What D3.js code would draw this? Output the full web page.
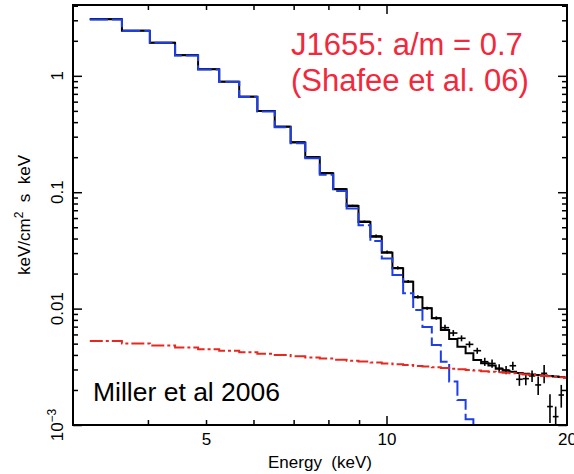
<!DOCTYPE html>
<html>
<head>
<meta charset="utf-8">
<script src="https://cdn.jsdelivr.net/npm/d3@7"></script>
<style>
  html, body { margin: 0; padding: 0; background: #fff; }
  svg { display: block; }
  text { font-family: "Liberation Sans", Arial, Helvetica, sans-serif; }
</style>
</head>
<body>
<svg id="chart" width="574" height="474"></svg>
<script>
// ---------------- data ----------------
const binEdges = [3.20, 3.62, 4.03, 4.44, 4.85, 5.26, 5.68, 6.09, 6.51, 6.92, 7.32, 7.74, 8.15, 8.58, 8.98,
  9.40, 9.82, 10.23, 10.66, 11.08, 11.48, 11.90, 12.32, 12.72, 13.13, 13.55, 13.96, 14.38, 14.79, 15.21,
  15.62, 16.04, 16.45, 16.87, 17.28, 17.70, 18.11, 18.53, 18.94, 19.36, 19.77, 20.19];

// total model (black step)
const totalModel = [3.06, 2.44, 1.925, 1.50, 1.137, 0.890, 0.661, 0.498, 0.365, 0.268, 0.1995, 0.1453, 0.1059,
  0.0761, 0.0554, 0.0415, 0.0302, 0.0222, 0.0170, 0.0125, 0.01006, 0.00825, 0.00655, 0.00548, 0.00471,
  0.00413, 0.00362, 0.00339, 0.00325, 0.00305, 0.00293, 0.00287, 0.00280, 0.00276, 0.00272, 0.00269,
  0.00266, 0.00263, 0.00261, 0.00258, 0.00256];

// disk component (blue dashed step)
const diskModel = [3.05, 2.43, 1.92, 1.495, 1.133, 0.886, 0.657, 0.494, 0.361, 0.264, 0.1957, 0.1416, 0.1023,
  0.0725, 0.0519, 0.0381, 0.0270, 0.0194, 0.01353, 0.00973, 0.00695, 0.00487, 0.00350, 0.00236, 0.00164,
  0.00112, 0.00075];

// power-law component (red dash-dot step)
const powerLaw = [0.00527, 0.00502, 0.00482, 0.00464, 0.00448, 0.00434, 0.00421, 0.00409, 0.00399, 0.00390,
  0.00381, 0.00372, 0.00364, 0.00357, 0.00351, 0.00344, 0.00338, 0.00333, 0.00327, 0.00322, 0.00318,
  0.00313, 0.00309, 0.00305, 0.00301, 0.00297, 0.00294, 0.00290, 0.00287, 0.00284, 0.00281, 0.00278,
  0.00275, 0.00272, 0.00270, 0.00267, 0.00265, 0.00262, 0.00260, 0.00257, 0.00255];

// unfolded data points (black crosses)
const dataFlux = [3.07, 2.45, 1.93, 1.51, 1.14, 0.893, 0.664, 0.500, 0.367, 0.270, 0.201, 0.1465, 0.1068,
  0.0770, 0.0562, 0.0421, 0.0306, 0.0224, 0.0171, 0.0126, 0.0101, 0.0083, 0.00686, 0.00617, 0.00556,
  0.00493, 0.00435, 0.00350, 0.00338, 0.00307, 0.00297, 0.00323, 0.00247, 0.00250, 0.00264, 0.00221,
  0.00278, 0.00144, 0.00118, 0.00181];
const dataErr = [0.02, 0.015, 0.012, 0.01, 0.008, 0.006, 0.005, 0.004, 0.003, 0.0025, 0.002, 0.0015, 0.0012,
  0.001, 0.0009, 0.0012, 0.0009, 0.0007, 0.0005, 0.0004, 0.0003, 0.00028, 0.0004, 0.00037, 0.00033,
  0.0003, 0.00026, 0.00028, 0.00027, 0.00025, 0.00024, 0.00026, 0.0003, 0.0003, 0.0003, 0.0004, 0.0005,
  0.0004, 0.00026, 0.0004];

const xMinorTicks = [4, 5, 6, 7, 8, 9];
const xMajorTicks = [10];
const xTickLabels = [5, 10, 20];
const yMajorTicks = [1, 0.1, 0.01, 0.001];
const yMinorTicks = [2, 3, 4, 0.2, 0.3, 0.4, 0.5, 0.6, 0.7, 0.8, 0.9, 0.02, 0.03, 0.04, 0.05, 0.06, 0.07,
  0.08, 0.09, 0.002, 0.003, 0.004, 0.005, 0.006, 0.007, 0.008, 0.009];
const yTickLabels = [{v: 1, t: "1"}, {v: 0.1, t: "0.1"}, {v: 0.01, t: "0.01"}, {v: 0.001, t: "10", sup: "\u22123"}];

// ---------------- layout ----------------
const L = 73, R = 567, T = 5, B = 425;
const svg = d3.select("#chart");
const x = d3.scaleLog().domain([3, 20]).range([L, R]);
const y = d3.scaleLog().domain([0.001, 4.06]).range([B, T]);

svg.append("defs").append("clipPath").attr("id", "plotclip")
  .append("rect").attr("x", L).attr("y", T).attr("width", R - L).attr("height", B - T);

const plot = svg.append("g").attr("clip-path", "url(#plotclip)");

function stepPoints(vals) {
  const pts = vals.map((v, i) => [binEdges[i], v]);
  pts.push([binEdges[vals.length], vals[vals.length - 1]]);
  return pts;
}
const stepLine = d3.line().x(d => x(d[0])).y(d => y(d[1])).curve(d3.curveStepAfter);

// total model
plot.append("path").attr("d", stepLine(stepPoints(totalModel)))
  .attr("fill", "none").attr("stroke", "#000").attr("stroke-width", 2);

// data crosses
const crosses = plot.append("g").attr("stroke", "#000").attr("stroke-width", 1.6);
dataFlux.forEach((v, i) => {
  const xc = Math.sqrt(binEdges[i] * binEdges[i + 1]);
  crosses.append("line").attr("x1", x(binEdges[i])).attr("x2", x(binEdges[i + 1]))
    .attr("y1", y(v)).attr("y2", y(v));
  const lo = Math.max(v - dataErr[i], 0.0005);
  crosses.append("line").attr("x1", x(xc)).attr("x2", x(xc))
    .attr("y1", y(lo)).attr("y2", y(v + dataErr[i]));
});

// disk component
plot.append("path").attr("d", stepLine(stepPoints(diskModel)))
  .attr("fill", "none").attr("stroke", "#1e3ee6").attr("stroke-width", 2)
  .attr("stroke-dasharray", "18,4");

// power law
plot.append("path").attr("d", stepLine(stepPoints(powerLaw)))
  .attr("fill", "none").attr("stroke", "#e8281e").attr("stroke-width", 2)
  .attr("stroke-dasharray", "13,3,3,3");

// ---------------- axes ----------------
function styleAxis(g) {
  g.select(".domain").remove();
  g.selectAll("line").attr("stroke", "#000").attr("stroke-width", 1.5);
}
// bottom
svg.append("g").attr("transform", `translate(0,${B})`)
  .call(d3.axisBottom(x).tickValues(xMinorTicks).tickSize(-5).tickFormat("")).call(styleAxis);
svg.append("g").attr("transform", `translate(0,${B})`)
  .call(d3.axisBottom(x).tickValues(xMajorTicks).tickSize(-9).tickFormat("")).call(styleAxis);
const xLab = svg.append("g").attr("transform", `translate(0,${B})`)
  .call(d3.axisBottom(x).tickValues(xTickLabels).tickSize(0).tickPadding(8).tickFormat(d3.format("d")));
xLab.select(".domain").remove();
xLab.selectAll("text").attr("font-size", 17).attr("fill", "#000")
  .attr("font-family", "'Liberation Sans', Arial, sans-serif");
// top
svg.append("g").attr("transform", `translate(0,${T})`)
  .call(d3.axisTop(x).tickValues(xMinorTicks).tickSize(-5).tickFormat("")).call(styleAxis);
svg.append("g").attr("transform", `translate(0,${T})`)
  .call(d3.axisTop(x).tickValues(xMajorTicks).tickSize(-9).tickFormat("")).call(styleAxis);
// left
svg.append("g").attr("transform", `translate(${L},0)`)
  .call(d3.axisLeft(y).tickValues(yMinorTicks).tickSize(-5).tickFormat("")).call(styleAxis);
svg.append("g").attr("transform", `translate(${L},0)`)
  .call(d3.axisLeft(y).tickValues(yMajorTicks).tickSize(-9).tickFormat("")).call(styleAxis);
// right
svg.append("g").attr("transform", `translate(${R},0)`)
  .call(d3.axisRight(y).tickValues(yMinorTicks).tickSize(-5).tickFormat("")).call(styleAxis);
svg.append("g").attr("transform", `translate(${R},0)`)
  .call(d3.axisRight(y).tickValues(yMajorTicks).tickSize(-9).tickFormat("")).call(styleAxis);

// frame
svg.append("rect").attr("x", L).attr("y", T).attr("width", R - L).attr("height", B - T)
  .attr("fill", "none").attr("stroke", "#000").attr("stroke-width", 2);

// y tick labels (rotated)
yTickLabels.forEach(d => {
  const t = svg.append("text")
    .attr("transform", `translate(63,${y(d.v)}) rotate(-90)`)
    .attr("text-anchor", "middle").attr("font-size", 17).attr("fill", "#000")
    .text(d.t);
  if (d.sup) {
    t.append("tspan").attr("dy", -7).attr("font-size", 12).text(d.sup);
  }
});

// axis titles
svg.append("text").attr("x", (L + R) / 2 - 0).attr("y", 468)
  .attr("text-anchor", "middle").attr("font-size", 17).style("white-space", "pre")
  .text("Energy  (keV)");

const yt = svg.append("text").attr("transform", "translate(30,215) rotate(-90)")
  .attr("text-anchor", "middle").attr("font-size", 17).style("white-space", "pre");
yt.append("tspan").text("keV/cm");
yt.append("tspan").attr("dy", -7).attr("font-size", 12).text("2");
yt.append("tspan").attr("dy", 7).text("  s  keV");

// annotations
svg.append("text").attr("x", 291).attr("y", 55).attr("font-size", 31).attr("fill", "#f2283c")
  .text("J1655: a/m = 0.7");
svg.append("text").attr("x", 291).attr("y", 91).attr("font-size", 31).attr("fill", "#f2283c")
  .text("(Shafee et al. 06)");
svg.append("text").attr("x", 93).attr("y", 401).attr("font-size", 26.5).attr("fill", "#000")
  .text("Miller et al 2006");
</script>
</body>
</html>
